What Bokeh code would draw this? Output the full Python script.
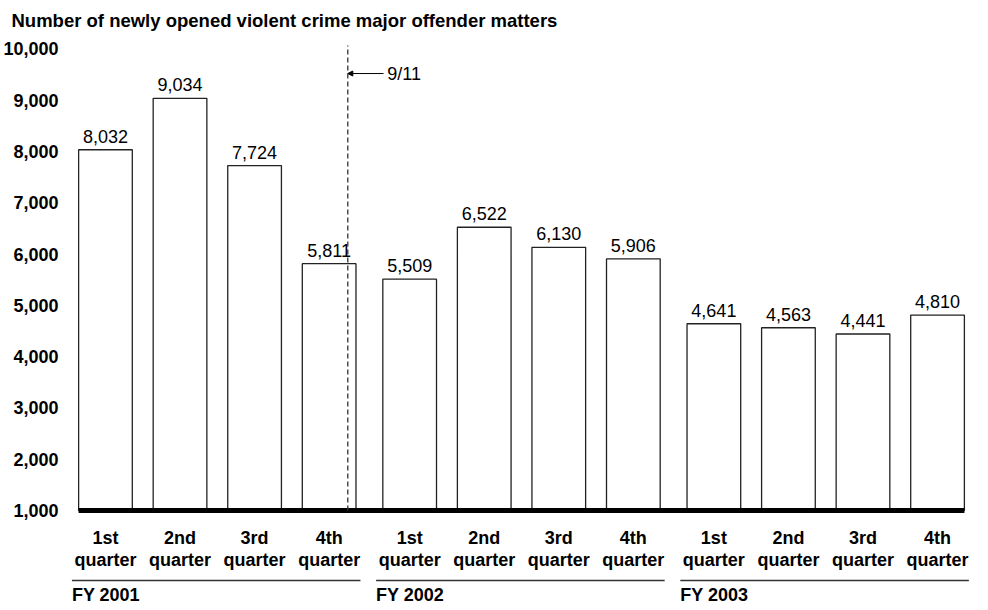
from bokeh.plotting import figure
from bokeh.models import Range1d, FixedTicker, NumeralTickFormatter, Arrow, NormalHead, Title
from bokeh.embed import file_html
from bokeh.resources import INLINE
from bokeh.core.properties import value

# ---------------- data ----------------
fiscal_years = ["FY 2001", "FY 2002", "FY 2003"]
quarters = ["1st\nquarter", "2nd\nquarter", "3rd\nquarter", "4th\nquarter"]
matters = [8032, 9034, 7724, 5811,
           5509, 6522, 6130, 5906,
           4641, 4563, 4441, 4810]
y_ticks = [1000, 2000, 3000, 4000, 5000, 6000, 7000, 8000, 9000, 10000]
event_label = "9/11"
title_text = "Number of newly opened violent crime major offender matters"

# ---------------- layout constants ----------------
GROUP_STEP = 4.08      # distance between first bars of consecutive groups
BAR_W = 0.72
BASE = 1000            # y baseline of the bars
PX_PER_UNIT_Y = 0.0513
EVENT_OFFSET = 0.25    # 9/11 falls late in the 4th quarter of FY 2001
EVENT_TOP = 10064
ARROW_Y = 9518
ARROW_LEN = 0.48
FONT = "Liberation Sans"
FS = "18px"

pos = [g * GROUP_STEP + q for g in range(len(fiscal_years)) for q in range(len(quarters))]
q_labels = [quarters[q] for g in range(len(fiscal_years)) for q in range(len(quarters))]
v_labels = [f"{v:,}" for v in matters]

p = figure(width=988, height=610, output_backend="svg", toolbar_location=None,
           x_range=Range1d(-0.536, 11.669), y_range=Range1d(-949, 10162),
           min_border_left=64, min_border_right=13, min_border_top=40, min_border_bottom=0)

p.title = Title(text=title_text, align="left", vertical_align="top", offset=-54, standoff=15,
                text_font=FONT, text_font_size="18.5px", text_font_style="bold",
                text_color="black")

p.xaxis.visible = False
p.xgrid.visible = False
p.ygrid.visible = False
p.outline_line_color = None
p.background_fill_color = "white"
p.border_fill_color = "white"

ya = p.yaxis[0]
ya.ticker = FixedTicker(ticks=y_ticks)
ya.formatter = NumeralTickFormatter(format="0,0")
ya.axis_line_color = None
ya.major_tick_line_color = None
ya.minor_tick_line_color = None
ya.major_label_standoff = 1
ya.major_label_text_font = FONT
ya.major_label_text_font_size = FS
ya.major_label_text_font_style = "bold"
ya.major_label_text_color = "black"

# bars
p.vbar(x=pos, top=matters, bottom=BASE, width=BAR_W, fill_color="white",
       line_color="#222222", line_width=1.3)

# thick baseline
p.segment(x0=[pos[0] - BAR_W / 2], y0=[BASE], x1=[pos[-1] + BAR_W / 2], y1=[BASE],
          line_color="black", line_width=5)

# value labels
p.text(x=pos, y=matters, text=v_labels, text_align="center", text_baseline="bottom",
       y_offset=-7, text_font=value(FONT), text_font_size=FS, text_color="black")

# quarter labels
p.text(x=pos, y=BASE, text=q_labels, text_align="center", text_baseline="top",
       y_offset=17, text_font=value(FONT), text_font_size=FS, text_font_style="bold",
       text_color="black", text_line_height=1.12)

# fiscal year group lines and labels
g_first = [pos[g * 4] - 0.45 for g in range(len(fiscal_years))]
g_last = [pos[g * 4 + 3] + 0.42 for g in range(len(fiscal_years))]
sep_y = BASE - 70 / PX_PER_UNIT_Y
p.segment(x0=g_first, y0=[sep_y] * 3, x1=g_last, y1=[sep_y] * 3, line_color="#333333",
          line_width=1.3)
p.text(x=g_first, y=[BASE] * 3, text=fiscal_years, text_align="left", text_baseline="top",
       y_offset=74, text_font=value(FONT), text_font_size=FS, text_font_style="bold",
       text_color="black")

# 9/11 marker
event_x = pos[3] + EVENT_OFFSET
p.segment(x0=[event_x], y0=[BASE], x1=[event_x], y1=[EVENT_TOP], line_color="#333333",
          line_width=1.3, line_dash="5 3")
p.add_layout(Arrow(end=NormalHead(size=5, fill_color="black", line_color="black"),
                   x_start=event_x + ARROW_LEN, y_start=ARROW_Y, x_end=event_x, y_end=ARROW_Y,
                   line_color="black", line_width=1.0))
p.text(x=[event_x + ARROW_LEN + 0.05], y=[ARROW_Y], text=[event_label], text_align="left",
       text_baseline="middle", text_font=value(FONT), text_font_size=FS, text_color="black")

open("out.html", "w").write(file_html(p, INLINE))
